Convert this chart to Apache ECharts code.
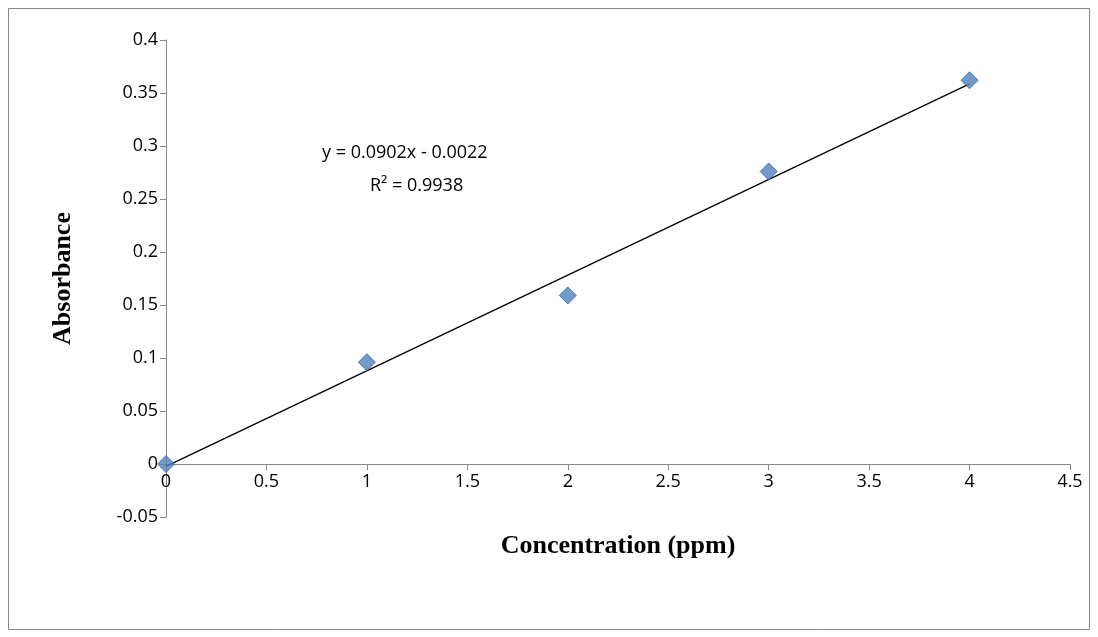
<!DOCTYPE html>
<html>
<head>
<meta charset="utf-8">
<script src="https://cdn.jsdelivr.net/npm/echarts@6/dist/echarts.min.js"></script>
<style>
html,body{margin:0;padding:0;background:#fff;}
#chart{width:1098px;height:637px;}
</style>
</head>
<body>
<div id="chart"></div>
<script>
// 标准曲线数据
const concentration = [0, 1, 2, 3, 4];
const absorbance = [0, 0.096, 0.159, 0.276, 0.362];
// 趋势线端点 y = 0.0902x - 0.0022
const trendX = [0, 4];
const trendY = [-0.0022, 0.3586];

const eChart = echarts.init(document.getElementById('chart'));
const labelFont = { color: '#000', fontSize: 18, fontFamily: 'Open Sans' };
const option = {
    animation: false,
    graphic: [
        {
            type: 'rect',
            shape: { x: 8.5, y: 8.5, width: 1081, height: 621 },
            style: { fill: 'none', stroke: '#888', lineWidth: 1 }
        },
        {
            type: 'text', left: 322, top: 144,
            style: { text: 'y = 0.0902x - 0.0022', fontSize: 18, fontFamily: 'Open Sans', fill: '#000' }
        },
        {
            type: 'text', left: 370, top: 177,
            style: { text: 'R² = 0.9938', fontSize: 18, fontFamily: 'Open Sans', fill: '#000' }
        }
    ],
    grid: { left: 166, right: 28, top: 40, bottom: 120 },
    xAxis: {
        type: 'value',
        min: 0, max: 4.5, interval: 0.5,
        name: 'Concentration (ppm)',
        nameLocation: 'middle',
        nameGap: 16,
        nameTextStyle: { fontFamily: 'Liberation Serif', fontWeight: 'bold', fontSize: 26, color: '#000' },
        axisLine: { onZero: true, lineStyle: { color: '#888' } },
        axisTick: { show: true, length: 6, lineStyle: { color: '#888' } },
        axisLabel: { ...labelFont, margin: -44 },
        splitLine: { show: false }
    },
    yAxis: {
        type: 'value',
        min: -0.05, max: 0.4, interval: 0.05,
        name: 'Absorbance',
        nameLocation: 'middle',
        nameGap: 90,
        nameTextStyle: { fontFamily: 'Liberation Serif', fontWeight: 'bold', fontSize: 26, color: '#000' },
        axisLine: { show: true, lineStyle: { color: '#888' } },
        axisTick: { show: true, length: 6, lineStyle: { color: '#888' } },
        axisLabel: { ...labelFont, formatter: v => String(+v.toFixed(2)) },
        splitLine: { show: false }
    },
    series: [
        {
            type: 'line',
            data: trendX.map((x, i) => [x, trendY[i]]),
            symbol: 'none',
            lineStyle: { color: '#000', width: 1.3 },
            z: 1
        },
        {
            type: 'scatter',
            data: concentration.map((x, i) => [x, absorbance[i]]),
            symbol: 'diamond',
            symbolSize: [17, 17],
            itemStyle: { color: '#4F81BD', borderColor: '#3A6699', borderWidth: 1 },
            z: 3
        }
    ]
};
eChart.setOption(option);
</script>
</body>
</html>
